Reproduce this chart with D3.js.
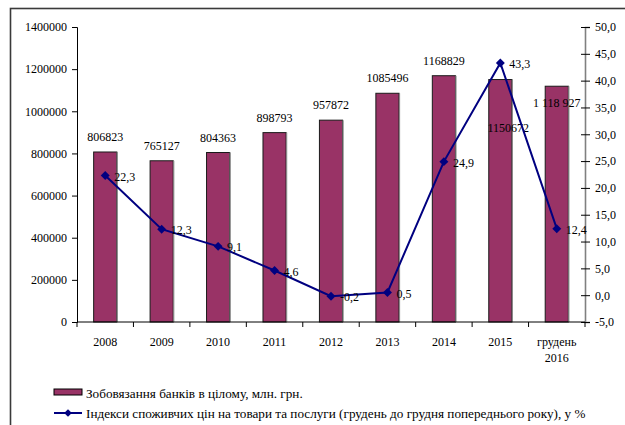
<!DOCTYPE html>
<html><head><meta charset="utf-8">
<script src="https://cdn.jsdelivr.net/npm/d3@7"></script>
<style>
html,body{margin:0;padding:0;background:#fff;}
svg{display:block;}
</style></head>
<body><svg id="c" width="625" height="425" font-family="Liberation Serif"></svg>
<script>
const categories = ["2008","2009","2010","2011","2012","2013","2014","2015","грудень 2016"];
const liabilities = [806823,765127,804363,898793,957872,1085496,1168829,1150672,1118927];
const liabilityLabels = ["806823","765127","804363","898793","957872","1085496","1168829","1150672","1 118 927"];
const cpi = [22.3,12.3,9.1,4.6,-0.2,0.5,24.9,43.3,12.4];
const leftTicks = [0,200000,400000,600000,800000,1000000,1200000,1400000];
const rightTicks = [-5,0,5,10,15,20,25,30,35,40,45,50];
const legendNames = ["Зобовязання банків в цілому, млн. грн.","Індекси споживчих цін на товари та послуги (грудень до грудня попереднього року), у %"];

const svg = d3.select("#c");
const FONT = "Liberation Serif";
const L = 77, R = 585, T = 27, B = 322;
const fs = 12;

// frame
svg.append("rect").attr("x",10.5).attr("y",8.5).attr("width",800).attr("height",600)
  .attr("fill","none").attr("stroke","#3a3a3a").attr("stroke-width",1.6);

const x = d3.scaleBand().domain(categories).range([L,R]).padding(0);
const yL = d3.scaleLinear().domain([0,1400000]).range([B,T]);
const yR = d3.scaleLinear().domain([-5,50]).range([B,T]);

// bars
const bw = x.bandwidth()*0.41;
const bars = svg.append("g");
bars.selectAll("rect").data(liabilities).join("rect")
  .attr("x",(d,i)=>x(categories[i])+x.bandwidth()/2-bw/2)
  .attr("y",d=>yL(d))
  .attr("width",bw)
  .attr("height",d=>B-yL(d))
  .attr("fill","#993366").attr("stroke","#1a1a1a").attr("stroke-width",1);
bars.selectAll("line").data(liabilities).join("line")
  .attr("x1",(d,i)=>x(categories[i])+x.bandwidth()/2+bw/2+0.5)
  .attr("x2",(d,i)=>x(categories[i])+x.bandwidth()/2+bw/2+0.5)
  .attr("y1",d=>yL(d)).attr("y2",B)
  .attr("stroke","#8a8a8a").attr("stroke-width",1.2);

// left axis
const gL = svg.append("g").attr("transform",`translate(${L},0)`)
  .call(d3.axisLeft(yL).tickValues(leftTicks).tickSize(5).tickPadding(5).tickFormat(d3.format("d")));
gL.attr("font-family",FONT).attr("font-size",fs);
gL.select(".domain").attr("stroke","#000");
gL.selectAll("text").attr("fill","#000");

// right axis
const gR = svg.append("g").attr("transform",`translate(${R},0)`)
  .call(d3.axisRight(yR).tickValues(rightTicks).tickSize(5).tickPadding(5).tickFormat(d=>d3.format(".1f")(d).replace(".",",").replace("−","-")));
gR.attr("font-family",FONT).attr("font-size",fs);
gR.select(".domain").attr("stroke","#808080").attr("stroke-width",1.6);
gR.selectAll(".tick line").attr("stroke","#000").attr("x1",-4);
gR.selectAll("text").attr("fill","#000");

// x axis
svg.append("line").attr("x1",L).attr("x2",R).attr("y1",B).attr("y2",B).attr("stroke","#000");
const bounds = categories.map(c=>x(c)).concat([R]);
svg.append("g").selectAll("line").data(bounds).join("line")
  .attr("x1",d=>d).attr("x2",d=>d).attr("y1",B).attr("y2",B+5).attr("stroke","#000");
const xl = svg.append("g").attr("font-family",FONT).attr("font-size",fs)
  .selectAll("text").data(categories).join("text")
  .attr("x",d=>x(d)+x.bandwidth()/2).attr("y",B+24)
  .attr("text-anchor","middle").attr("fill","#000");
xl.each(function(d){
  const parts = d.split(" ");
  const t = d3.select(this);
  parts.forEach((p,k)=>t.append("tspan").attr("x",x(d)+x.bandwidth()/2).attr("dy",k?16:0).text(p));
});

// bar labels
svg.append("g").attr("font-family",FONT).attr("font-size",fs)
  .selectAll("text").data(liabilities).join("text")
  .attr("x",(d,i)=>x(categories[i])+x.bandwidth()/2+(i===7?8:0))
  .attr("y",(d,i)=>yL(d)+(i===7?52:(i===8?21:-11)))
  .attr("text-anchor","middle").attr("fill","#000")
  .text((d,i)=>liabilityLabels[i]);

// line
const cx = (d,i)=>x(categories[i])+x.bandwidth()/2;
const line = d3.line().x((d,i)=>cx(d,i)).y(d=>yR(d));
svg.append("path").datum(cpi).attr("d",line).attr("fill","none")
  .attr("stroke","#000080").attr("stroke-width",2);
const diamond = d3.symbol().type(d3.symbolSquare).size(40);
svg.append("g").selectAll("path").data(cpi).join("path")
  .attr("d",diamond())
  .attr("transform",(d,i)=>`translate(${cx(d,i)},${yR(d)}) rotate(45)`)
  .attr("fill","#000080");
svg.append("g").attr("font-family",FONT).attr("font-size",fs)
  .selectAll("text").data(cpi).join("text")
  .attr("x",(d,i)=>cx(d,i)+9).attr("y",d=>yR(d)+5)
  .attr("fill","#000")
  .text(d=>d3.format(".1f")(d).replace(".",",").replace("−","-"));

// legend
const lfs = 13.2;
const lg = svg.append("g").attr("font-family",FONT).attr("font-size",lfs);
lg.append("rect").attr("x",54).attr("y",389).attr("width",28).attr("height",6)
  .attr("fill","#993366").attr("stroke","#000").attr("stroke-width",1);
lg.append("text").attr("x",86).attr("y",398).attr("fill","#000").text(legendNames[0]);
lg.append("line").attr("x1",54).attr("x2",82).attr("y1",413).attr("y2",413).attr("stroke","#000080").attr("stroke-width",2);
lg.append("path").attr("d",d3.symbol().type(d3.symbolSquare).size(30)())
  .attr("transform","translate(68,413) rotate(45)").attr("fill","#000080");
lg.append("text").attr("x",86).attr("y",418).attr("fill","#000").text(legendNames[1]);
</script></body></html>
